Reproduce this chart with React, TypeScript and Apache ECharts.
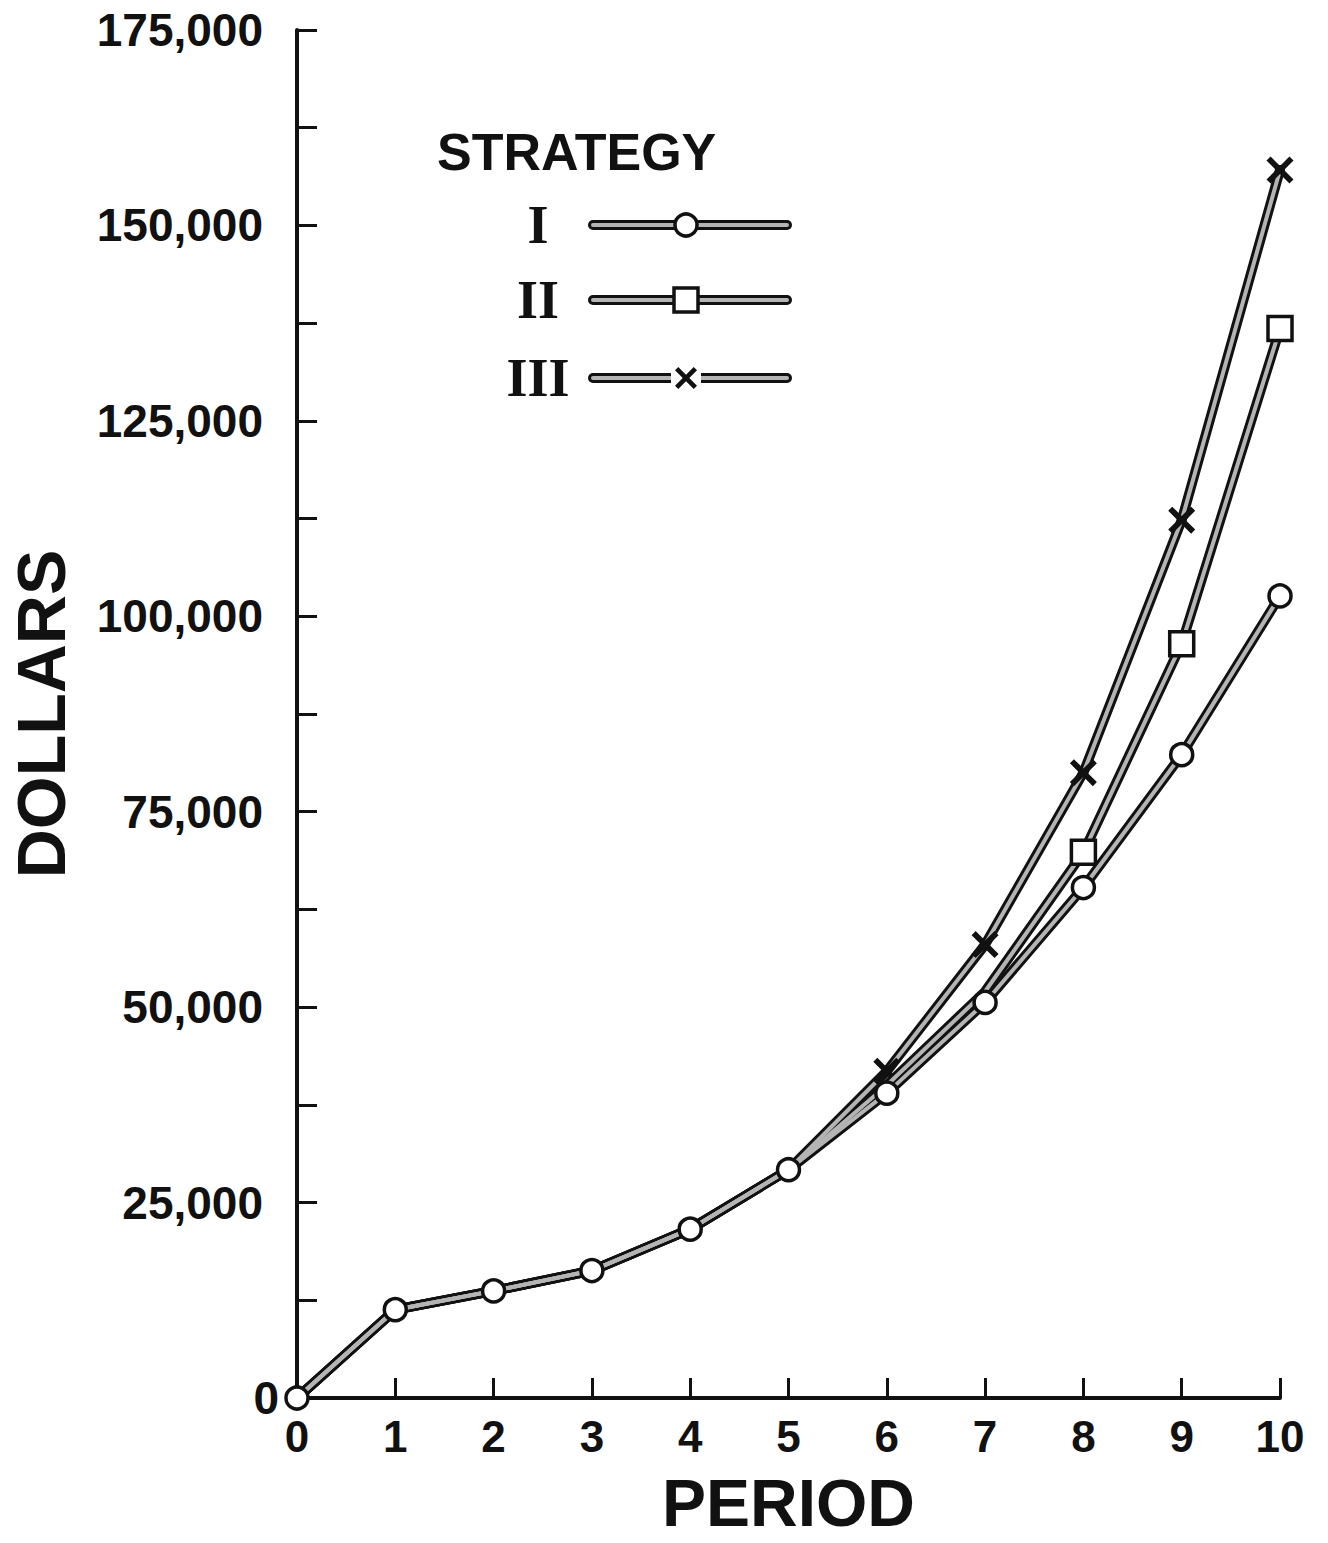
import React, { useEffect, useRef } from "react";
import * as echarts from "echarts";

const periods = [0, 1, 2, 3, 4, 5, 6, 7, 8, 9, 10];
const strategyI = [0, 11300, 13700, 16300, 21600, 29200, 39000, 50600, 65300, 82300, 102600];
const strategyII = [0, 11300, 13700, 16300, 21600, 29200, 40000, 52000, 69800, 96500, 136800];
const strategyIII = [0, 11300, 13700, 16300, 21600, 29200, 41800, 58000, 80000, 112300, 157100];
const legendNames = ["I", "II", "III"];
const titleText = "STRATEGY";

const X_PATH = "path://M0,3 L3,0 L10,7 L17,0 L20,3 L13,10 L20,17 L17,20 L10,13 L3,20 L0,17 L7,10 Z";
const INK = "#111";
const FILL = "#b4b4b4";
const SANS = "Liberation Sans";

function pairs(ys: number[]) {
  return periods.map((p, i) => [p, ys[i]]);
}

export default function App() {
  const ref = useRef<HTMLDivElement>(null);
  useEffect(() => {
    document.body.style.margin = "0";
    const chart = echarts.init(ref.current!, null, { renderer: "svg" });
    const outline = (name: string, ys: number[]) => ({
      name,
      type: "line",
      data: pairs(ys),
      symbol: "none",
      silent: true,
      lineStyle: { color: INK, width: 10, cap: "round", join: "round" },
      z: 2,
    });
    const legendX0 = 593;
    const legendX1 = 787;
    const legendMid = 686;
    const rows = [225, 300, 378];
    const legendGraphics: any[] = [
      {
        type: "text",
        x: 437,
        y: 152,
        style: { text: titleText, font: `bold 52px "${SANS}"`, fill: INK, textVerticalAlign: "middle", textAlign: "left" },
      },
    ];
    rows.forEach((y, i) => {
      legendGraphics.push({
        type: "text",
        x: 538,
        y: y,
        style: { text: legendNames[i], font: `bold 54px "Liberation Serif"`, fill: INK, textVerticalAlign: "middle", textAlign: "center" },
      });
      legendGraphics.push({
        type: "line",
        shape: { x1: legendX0, y1: y, x2: legendX1, y2: y },
        style: { stroke: INK, lineWidth: 10, lineCap: "round" },
      });
      legendGraphics.push({
        type: "line",
        shape: { x1: legendX0, y1: y, x2: legendX1, y2: y },
        style: { stroke: FILL, lineWidth: 4, lineCap: "round" },
      });
    });
    legendGraphics.push({
      type: "circle",
      shape: { cx: legendMid, cy: rows[0], r: 11 },
      style: { fill: "#fff", stroke: INK, lineWidth: 3.5 },
    });
    legendGraphics.push({
      type: "rect",
      shape: { x: legendMid - 12, y: rows[1] - 12, width: 24, height: 24 },
      style: { fill: "#fff", stroke: INK, lineWidth: 3.5 },
    });
    legendGraphics.push({
      type: "rect",
      shape: { x: legendMid - 15, y: rows[2] - 9, width: 30, height: 18 },
      style: { fill: "#fff", stroke: "none" },
    });
    legendGraphics.push({
      type: "polygon",
      shape: {
        points: [
          [0, 3], [3, 0], [10, 7], [17, 0], [20, 3], [13, 10], [20, 17], [17, 20], [10, 13], [3, 20], [0, 17], [7, 10],
        ].map(([a, b]) => [legendMid - 11 + a * 1.1, rows[2] - 11 + b * 1.1]),
      },
      style: { fill: INK },
    });

    chart.setOption({
      animation: false,
      backgroundColor: "#fff",
      grid: { left: 297, right: 48, top: 30, bottom: 145, containLabel: false, outerBoundsMode: "none" },
      xAxis: {
        type: "value",
        min: 0,
        max: 10,
        interval: 1,
        name: "PERIOD",
        nameLocation: "middle",
        nameGap: 72,
        nameTextStyle: { fontFamily: SANS, fontWeight: "bold", fontSize: 66, color: INK },
        axisLine: { show: true, onZero: false, lineStyle: { color: INK, width: 4 } },
        axisTick: { show: true, inside: true, length: 20, lineStyle: { color: INK, width: 3 } },
        axisLabel: { fontFamily: SANS, fontWeight: "bold", fontSize: 44, color: INK, margin: 16 },
        splitLine: { show: false },
      },
      yAxis: {
        type: "value",
        min: 0,
        max: 175000,
        interval: 12500,
        name: "DOLLARS",
        nameLocation: "middle",
        nameRotate: 90,
        nameGap: 222,
        nameTextStyle: { fontFamily: SANS, fontWeight: "bold", fontSize: 68, color: INK },
        axisLine: { show: true, lineStyle: { color: INK, width: 4 } },
        axisTick: { show: true, inside: true, length: 20, lineStyle: { color: INK, width: 3 } },
        axisLabel: {
          fontFamily: SANS,
          fontWeight: "bold",
          fontSize: 46,
          color: INK,
          margin: 18,
          formatter: (v: number) =>
            v % 25000 !== 0 ? "" : v === 0 ? "{z|0}" : "{n|" + v.toLocaleString("en-US") + "}",
          rich: {
            z: { fontFamily: SANS, fontWeight: "bold", fontSize: 46, color: INK, padding: [0, 0, 0, 0] },
            n: { fontFamily: SANS, fontWeight: "bold", fontSize: 46, color: INK, padding: [0, 16, 0, 0] },
          },
        },
        splitLine: { show: false },
      },
      graphic: legendGraphics,
      series: [
        outline("I-outline", strategyI),
        outline("II-outline", strategyII),
        outline("III-outline", strategyIII),
        {
          name: "III",
          type: "line",
          data: pairs(strategyIII),
          symbol: (_v: any, p: any) => (p.dataIndex >= 6 ? X_PATH : "none"),
          symbolSize: 27,
          showAllSymbol: true,
          lineStyle: { color: FILL, width: 4 },
          itemStyle: { color: INK },
          z: 3,
        },
        {
          name: "II",
          type: "line",
          data: pairs(strategyII),
          symbol: (_v: any, p: any) => (p.dataIndex >= 8 ? "rect" : "none"),
          symbolSize: 24,
          showAllSymbol: true,
          lineStyle: { color: FILL, width: 4 },
          itemStyle: { color: "#fff", borderColor: INK, borderWidth: 3.5 },
          z: 4,
        },
        {
          name: "I",
          type: "line",
          data: pairs(strategyI),
          symbol: "circle",
          symbolSize: 22,
          showAllSymbol: true,
          lineStyle: { color: FILL, width: 4 },
          itemStyle: { color: "#fff", borderColor: INK, borderWidth: 3.5 },
          z: 5,
        },
      ],
    });
    return () => chart.dispose();
  }, []);
  return <div ref={ref} style={{ width: 1328, height: 1543 }} />;
}
